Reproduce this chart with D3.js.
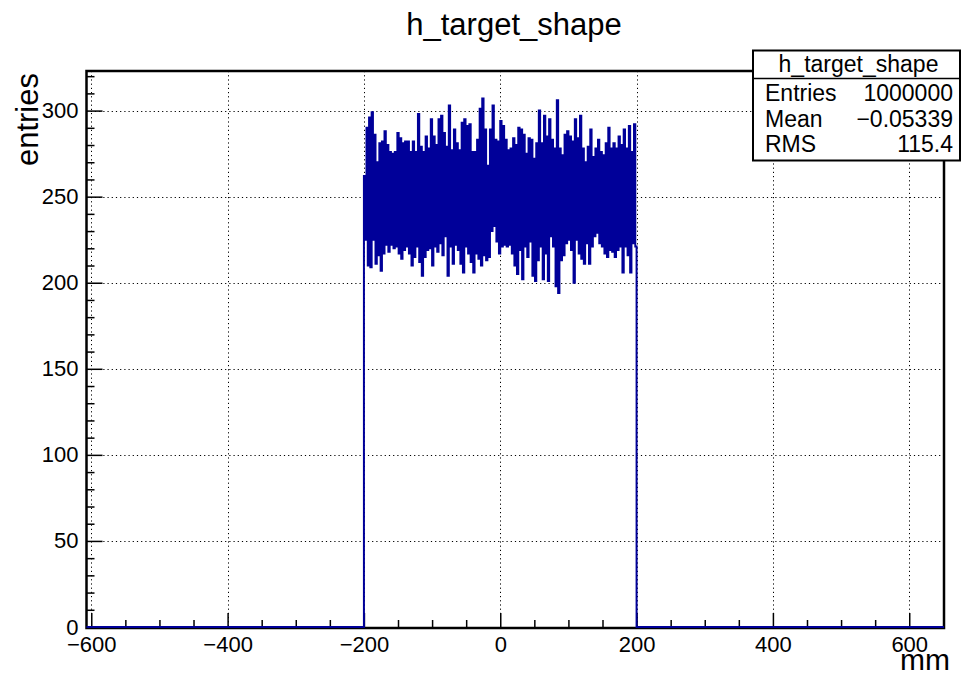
<!DOCTYPE html>
<html>
<head>
<meta charset="utf-8">
<script src="https://cdn.jsdelivr.net/npm/d3@7"></script>
<style>
  html, body { margin: 0; padding: 0; background: #fff; }
  svg { display: block; }
  text { font-family: "Liberation Sans", Arial, Helvetica, sans-serif; fill: #000; }
</style>
</head>
<body>
<svg id="chart" width="961" height="675"></svg>
<script>
// ---------------- data ----------------
const title = "h_target_shape";
const xTitle = "mm";
const yTitle = "entries";
const xDomain = [-607, 651];
const yDomain = [0, 323];
const xMajorTicks = [-600, -400, -200, 0, 200, 400, 600];
const yMajorTicks = [0, 50, 100, 150, 200, 250, 300];
const filledRange = [-200, 200];   // region with entries; zero elsewhere
// upper and lower envelope of the (very finely binned) histogram, left to right over [-200, 200]
const upperEnvelope = [
  262, 290, 296, 299, 286, 270, 281, 282, 288, 280, 276, 275, 276, 287, 284, 281, 282, 282, 276, 282,
  276, 298, 279, 276, 285, 278, 295, 285, 280, 295, 297, 287, 279, 303, 277, 289, 281,
  277, 293, 295, 291, 292, 276, 276, 283, 301, 307, 289, 268, 289, 303, 283, 282, 294, 291, 283, 277,
  278, 284, 280, 290, 289, 286, 275, 284, 283, 272, 281, 300, 281, 297, 285, 295,
  283, 278, 306, 278, 274, 286, 288, 285, 282, 295, 284, 297, 278, 270, 279, 289, 273, 278, 283, 276,
  274, 281, 290, 278, 281, 278, 285, 280, 289, 278, 291, 276, 292
];
const lowerEnvelope = [
  225, 210, 209, 225, 211, 216, 207, 217, 222, 218, 222, 220, 221, 217, 214, 219, 221, 217, 210, 215,
  221, 212, 204, 215, 219, 220, 210, 221, 218, 223, 216, 227, 204, 221, 211, 222, 219,
  211, 206, 221, 217, 212, 206, 217, 214, 210, 216, 213, 215, 230, 233, 224, 217, 221, 222, 221, 222,
  217, 210, 205, 219, 202, 221, 215, 224, 204, 201, 213, 221, 202, 217, 201, 227,
  221, 198, 194, 213, 216, 223, 225, 219, 200, 225, 217, 214, 211, 223, 211, 221, 227, 229, 223, 221,
  217, 215, 219, 218, 215, 219, 221, 206, 221, 216, 206, 223, 221
];
const statsRows = [
  ["Entries", "1000000"],
  ["Mean", "\u22120.05339"],
  ["RMS", "115.4"]
];

// ---------------- layout ----------------
const frame = { left: 86.5, right: 944, top: 71, bottom: 628 };
const histColor = "#000099";

const svg = d3.select("#chart");
const x = d3.scaleLinear().domain(xDomain).range([frame.left, frame.right]);
const y = d3.scaleLinear().domain(yDomain).range([627, frame.top]);

const xMinor = d3.range(-600, 651, 50).filter(v => !xMajorTicks.includes(v));
const yMinor = d3.range(0, 323, 10).filter(v => !yMajorTicks.includes(v));

// grid
const grid = svg.append("g").attr("stroke", "#000").attr("stroke-width", 1)
  .attr("stroke-dasharray", "1.2,3");
grid.selectAll("line.gx").data(xMajorTicks).join("line")
  .attr("x1", d => Math.round(x(d)) + 0.5).attr("x2", d => Math.round(x(d)) + 0.5)
  .attr("y1", frame.top).attr("y2", frame.bottom);
grid.selectAll("line.gy").data(yMajorTicks.filter(v => v > 0)).join("line")
  .attr("x1", frame.left).attr("x2", frame.right)
  .attr("y1", d => Math.round(y(d)) + 0.5).attr("y2", d => Math.round(y(d)) + 0.5);

// frame
svg.append("rect")
  .attr("x", frame.left).attr("y", frame.top)
  .attr("width", frame.right - frame.left).attr("height", frame.bottom - frame.top)
  .attr("fill", "none").attr("stroke", "#000").attr("stroke-width", 2.5);

// axes
const fontSize = 22;
const yAxis = svg.append("g").attr("transform", `translate(${frame.left},0)`)
  .call(d3.axisLeft(y).tickValues(yMajorTicks).tickSize(-16).tickPadding(8));
const yAxisMinor = svg.append("g").attr("transform", `translate(${frame.left},0)`)
  .call(d3.axisLeft(y).tickValues(yMinor).tickSize(-8).tickFormat(""));
const xAxis = svg.append("g").attr("transform", `translate(0,${frame.bottom})`)
  .call(d3.axisBottom(x).tickValues(xMajorTicks).tickSize(-15).tickPadding(8)
    .tickFormat(d => d < 0 ? "\u2212" + Math.abs(d) : String(d)));
const xAxisMinor = svg.append("g").attr("transform", `translate(0,${frame.bottom})`)
  .call(d3.axisBottom(x).tickValues(xMinor).tickSize(-8).tickFormat(""));
[yAxis, yAxisMinor, xAxis, xAxisMinor].forEach(g => {
  g.select(".domain").remove();
  g.selectAll(".tick line").attr("stroke", "#000").attr("stroke-width", 1.5);
  g.selectAll(".tick text").attr("font-size", fontSize)
    .attr("font-family", "Liberation Sans, Arial, sans-serif").attr("fill", "#000");
});

// histogram (step line)
const halfStep = (filledRange[1] - filledRange[0]) / (upperEnvelope.length * 2);
const pts = [[xDomain[0], 0]];
upperEnvelope.forEach((u, i) => {
  const x0 = filledRange[0] + i * 2 * halfStep;
  pts.push([x0, u]);
  pts.push([x0 + halfStep, lowerEnvelope[i]]);
});
pts.push([filledRange[1], 0]);
pts.push([xDomain[1], 0]);
const line = d3.line().x(d => x(d[0])).y(d => y(d[1])).curve(d3.curveStepAfter);
svg.append("path").attr("d", line(pts))
  .attr("fill", "none").attr("stroke", histColor).attr("stroke-width", 2)
  .attr("stroke-linejoin", "miter");

// titles
svg.append("text").attr("x", 514).attr("y", 35).attr("text-anchor", "middle")
  .attr("font-size", 31).text(title);
svg.append("text").attr("x", 950).attr("y", 670).attr("text-anchor", "end")
  .attr("font-size", 30).text(xTitle);
svg.append("text").attr("transform", "translate(38,73) rotate(-90)")
  .attr("text-anchor", "end").attr("font-size", 31).text(yTitle);

// stats box
const sb = { x: 753, y: 50.5, w: 207, h: 110 };
const stats = svg.append("g");
stats.append("rect").attr("x", sb.x).attr("y", sb.y).attr("width", sb.w).attr("height", sb.h)
  .attr("fill", "#fff").attr("stroke", "#000").attr("stroke-width", 2);
stats.append("line").attr("x1", sb.x).attr("x2", sb.x + sb.w).attr("y1", 78.5).attr("y2", 78.5)
  .attr("stroke", "#000").attr("stroke-width", 1.5);
stats.append("text").attr("x", 858.5).attr("y", 72).attr("text-anchor", "middle")
  .attr("font-size", 23).text(title);
const rowBase = [101, 126.5, 152];
stats.selectAll("text.k").data(statsRows).join("text").attr("class", "k")
  .attr("x", 765).attr("y", (d, i) => rowBase[i]).attr("font-size", 23).text(d => d[0]);
stats.selectAll("text.v").data(statsRows).join("text").attr("class", "v")
  .attr("x", 953).attr("y", (d, i) => rowBase[i]).attr("text-anchor", "end")
  .attr("font-size", 23).text(d => d[1]);
</script>
</body>
</html>
